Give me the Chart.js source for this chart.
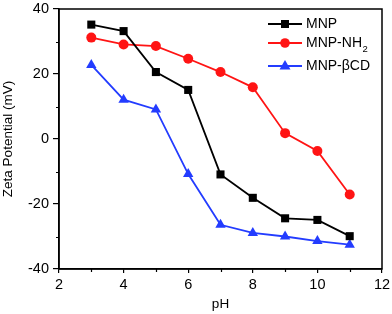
<!DOCTYPE html>
<html>
<head>
<meta charset="utf-8">
<script src="https://cdn.jsdelivr.net/npm/chart.js@4"></script>
<style>
  html, body { margin: 0; padding: 0; background: #fff; }
  #wrap { width: 392px; height: 314px; }
</style>
</head>
<body>
<div id="wrap"><canvas id="zeta"></canvas></div>
<script>
const phValues = [3, 4, 5, 6, 7, 8, 9, 10, 11];
const mnp = [35.2, 33.2, 20.6, 15.1, -10.9, -18.1, -24.4, -24.9, -29.9];
const mnpNH2 = [31.2, 29.1, 28.6, 24.7, 20.6, 15.9, 1.8, -3.7, -17.1];
const mnpBCD = [22.8, 12.1, 9.1, -10.8, -26.4, -28.9, -30.0, -31.4, -32.5];
const seriesNames = ['MNP', 'MNP-NH', 'MNP-\u03B2CD'];
const xMinorTicks = [3, 5, 7, 9, 11];
const yMinorTicks = [-30, -10, 10, 30];

const FONT = '"Liberation Sans", Arial, sans-serif';
const BLUE = 'rgb(35, 60, 255)';
const RED = 'rgb(255, 20, 20)';

function pts(vals) {
    return phValues.map((x, i) => ({ x: x, y: vals[i] }));
}

// frame, minor ticks and the legend inside the top-right corner
const framePlugin = {
    id: 'frame',
    afterDatasetsDraw(chart) {
        const a = chart.chartArea;
        const c = chart.ctx;
        const xs = chart.scales.x, ys = chart.scales.y;
        c.save();
        c.strokeStyle = '#000';
        c.lineWidth = 1.5;
        c.strokeRect(a.left, a.top, a.right - a.left, a.bottom - a.top);

        // minor ticks
        c.lineWidth = 1.2;
        c.beginPath();
        xMinorTicks.forEach(v => {
            const px = Math.round(xs.getPixelForValue(v)) + 0.5;
            c.moveTo(px, a.bottom);
            c.lineTo(px, a.bottom + 3);
        });
        yMinorTicks.forEach(v => {
            const py = Math.round(ys.getPixelForValue(v)) + 0.5;
            c.moveTo(a.left, py);
            c.lineTo(a.left - 3, py);
        });
        c.stroke();

        const rows = [
            { y: a.top + 15, color: '#000', style: 'rect' },
            { y: a.top + 34, color: RED, style: 'circle', sub: '2' },
            { y: a.top + 57, color: BLUE, style: 'triangle' }
        ];
        const x0 = 268, x1 = 302;
        rows.forEach((r, i) => {
            c.strokeStyle = r.color;
            c.fillStyle = r.color;
            c.lineWidth = 1.8;
            c.beginPath();
            c.moveTo(x0, r.y);
            c.lineTo(x1, r.y);
            c.stroke();
            const mx = (x0 + x1) / 2;
            c.beginPath();
            if (r.style === 'rect') {
                c.rect(mx - 4, r.y - 4, 8, 8);
            } else if (r.style === 'circle') {
                c.arc(mx, r.y, 4.8, 0, Math.PI * 2);
            } else {
                c.moveTo(mx, r.y - 6);
                c.lineTo(mx + 5.5, r.y + 3.5);
                c.lineTo(mx - 5.5, r.y + 3.5);
                c.closePath();
            }
            c.fill();
            c.fillStyle = '#000';
            c.font = '14px ' + FONT;
            c.textBaseline = 'middle';
            c.textAlign = 'left';
            c.fillText(seriesNames[i], 306, r.y);
            if (r.sub) {
                const w = c.measureText(seriesNames[i]).width;
                c.font = '9.5px ' + FONT;
                c.fillText(r.sub, 306 + w + 0.5, r.y + 6);
            }
        });
        c.restore();
    }
};

const baseDs = {
    borderWidth: 1.8,
    tension: 0,
    fill: false,
    pointBorderWidth: 0
};

new Chart(document.getElementById('zeta').getContext('2d'), {
    type: 'line',
    data: {
        datasets: [
            Object.assign({}, baseDs, {
                label: seriesNames[0],
                data: pts(mnp),
                borderColor: '#000',
                backgroundColor: '#000',
                pointStyle: 'rect',
                pointRadius: 5.7
            }),
            Object.assign({}, baseDs, {
                label: seriesNames[1],
                data: pts(mnpNH2),
                borderColor: RED,
                backgroundColor: RED,
                pointStyle: 'circle',
                pointRadius: 5
            }),
            Object.assign({}, baseDs, {
                label: seriesNames[2],
                data: pts(mnpBCD),
                borderColor: BLUE,
                backgroundColor: BLUE,
                pointStyle: 'triangle',
                pointRadius: 6
            })
        ]
    },
    options: {
        responsive: true,
        maintainAspectRatio: false,
        animation: false,
        layout: { padding: { top: 9, right: 10, left: 0, bottom: 0 } },
        plugins: {
            legend: { display: false },
            tooltip: { enabled: false }
        },
        scales: {
            x: {
                type: 'linear',
                min: 2,
                max: 12,
                afterFit(scale) {
                    scale.height = 45;
                    scale.paddingLeft = 0;
                    scale.paddingRight = 0;
                },
                ticks: {
                    stepSize: 2,
                    color: '#000',
                    font: { family: FONT, size: 14.5 },
                    padding: 3,
                    maxRotation: 0,
                    autoSkip: false
                },
                grid: {
                    drawOnChartArea: false,
                    color: '#000',
                    lineWidth: 1.2,
                    tickLength: 4
                },
                border: { color: '#000', width: 1.5 },
                title: {
                    display: true,
                    text: 'pH',
                    color: '#000',
                    font: { family: FONT, size: 13.5 },
                    padding: { top: 0, bottom: 2 }
                }
            },
            y: {
                min: -40,
                max: 40,
                afterFit(scale) {
                    scale.width = 59;
                    scale.paddingTop = 0;
                    scale.paddingBottom = 0;
                },
                ticks: {
                    stepSize: 20,
                    color: '#000',
                    font: { family: FONT, size: 14.5 },
                    padding: 4,
                    autoSkip: false
                },
                grid: {
                    drawOnChartArea: false,
                    color: '#000',
                    lineWidth: 1.2,
                    tickLength: 6
                },
                border: { color: '#000', width: 1.5 },
                title: {
                    display: true,
                    text: 'Zeta Potential (mV)',
                    color: '#000',
                    font: { family: FONT, size: 13.5 },
                    padding: { top: 0, bottom: 0 }
                }
            }
        }
    },
    plugins: [framePlugin]
});
</script>
</body>
</html>
